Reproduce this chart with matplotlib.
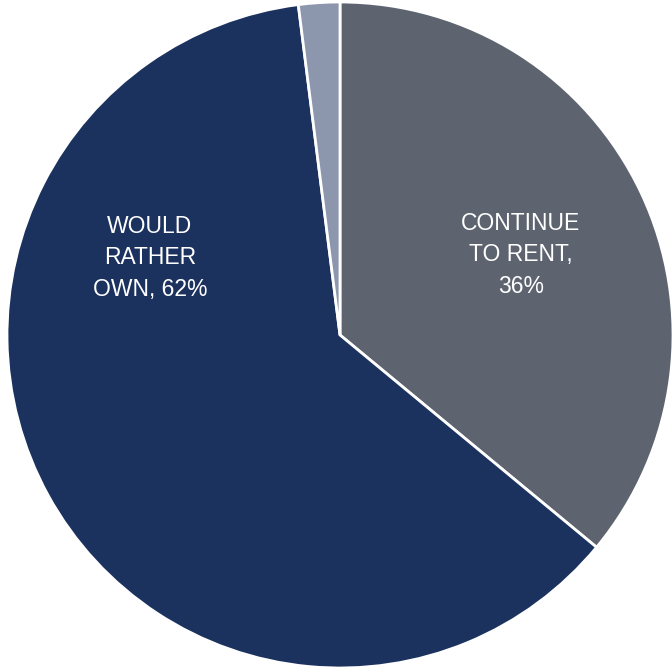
import matplotlib
matplotlib.use('Agg')
import matplotlib.pyplot as plt

# Data
labels = ["CONTINUE\nTO RENT,\n36%", "WOULD\nRATHER\nOWN, 62%", ""]
shares = [36, 62, 2]
colors = ['#5d6470', '#1b315e', '#8c97ae']

plt.rcParams['font.family'] = ['Liberation Sans Narrow', 'Liberation Sans', 'DejaVu Sans']

fig = plt.figure(figsize=(6.72, 6.70), dpi=100)
ax = fig.add_axes([0, 0, 1, 1])

wedges, _ = ax.pie(shares, colors=colors, startangle=90, counterclock=False,
                   radius=333, center=(0, 0),
                   wedgeprops=dict(edgecolor='white', linewidth=2))

ax.text(181, 80, labels[0], ha='center', va='center', color='white',
        fontsize=16.5, linespacing=1.45)
ax.text(-190, 77, labels[1], ha='center', va='center', color='white',
        fontsize=16.5, linespacing=1.45)

ax.set_xlim(-340, 332)
ax.set_ylim(-335, 335)
ax.set_aspect('equal')
ax.axis('off')

fig.savefig('out.png', dpi=100, facecolor='white')
